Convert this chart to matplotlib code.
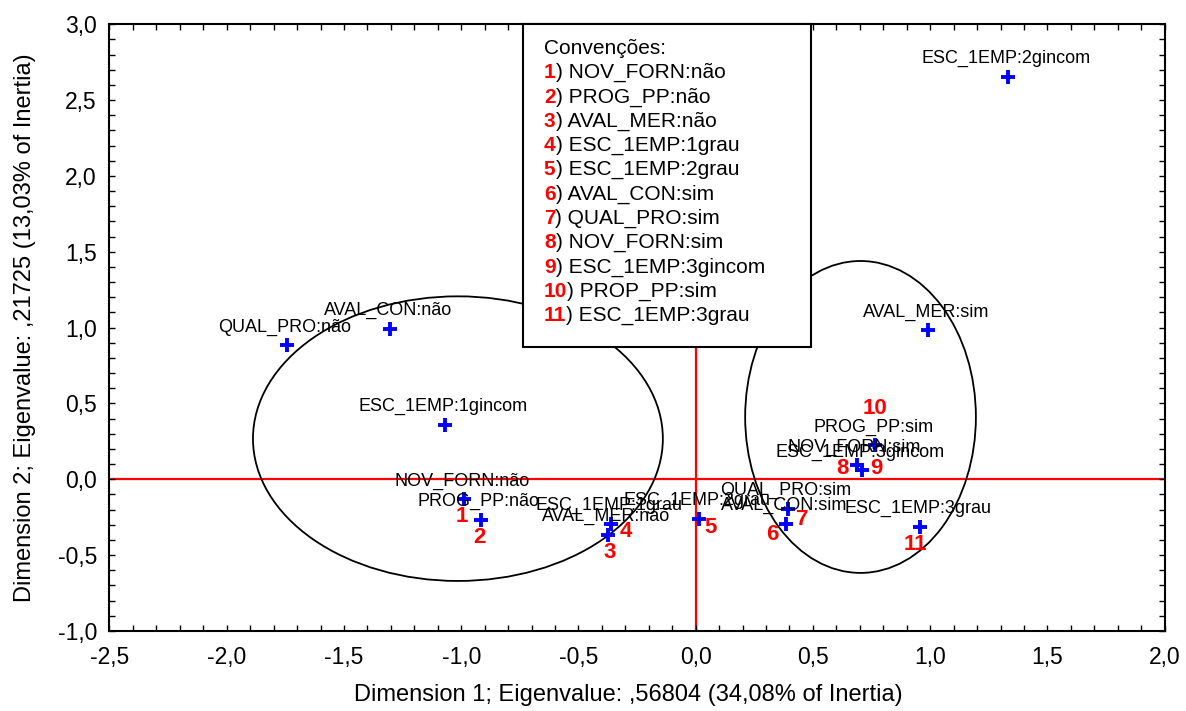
import matplotlib
matplotlib.use("Agg")
import matplotlib.pyplot as plt
from matplotlib.patches import Ellipse, Rectangle
from matplotlib.ticker import MultipleLocator, FuncFormatter

plt.rcParams['font.family'] = ['Liberation Sans', 'DejaVu Sans']

# category coordinates (dimension 1, dimension 2)
labels = ["NOV_FORN:não", "PROG_PP:não", "AVAL_MER:não", "ESC_1EMP:1grau",
          "ESC_1EMP:2grau", "AVAL_CON:sim", "QUAL_PRO:sim", "NOV_FORN:sim",
          "ESC_1EMP:3gincom", "PROG_PP:sim", "ESC_1EMP:3grau",
          "AVAL_MER:sim", "ESC_1EMP:2gincom", "QUAL_PRO:não", "AVAL_CON:não",
          "ESC_1EMP:1gincom"]
dim1 = [-0.987, -0.916, -0.373, -0.360, 0.013, 0.386, 0.393, 0.686,
        0.708, 0.765, 0.956, 0.991, 1.332, -1.743, -1.303, -1.069]
dim2 = [-0.132, -0.270, -0.369, -0.292, -0.259, -0.292, -0.193, 0.092,
        0.059, 0.224, -0.314, 0.982, 2.650, 0.883, 0.989, 0.361]

# numbered points (first 11) and where the red number sits, in pixels
num_offsets = [(-2, -17), (-1, -17), (1, -17), (15, -8), (12, -9), (-14, -11),
               (14, -11), (-14, -3), (15, 2), (0, 37), (-4, -18)]

legend_title = "Convenções:"
legend_items = ["NOV_FORN:não", "PROG_PP:não", "AVAL_MER:não", "ESC_1EMP:1grau",
                "ESC_1EMP:2grau", "AVAL_CON:sim", "QUAL_PRO:sim", "NOV_FORN:sim",
                "ESC_1EMP:3gincom", "PROP_PP:sim", "ESC_1EMP:3grau"]

# groups drawn as ellipses: center x, center y, width, height
groups = [(-1.014, 0.268, 1.748, 1.876),
          (0.703, 0.411, 0.984, 2.056)]

fig = plt.figure(figsize=(11.86, 7.11), dpi=100)
ax = fig.add_axes([0.0923, 0.1125, 0.8897, 0.8535])

ax.set_xlim(-2.5, 2.0)
ax.set_ylim(-1.0, 3.0)

ax.axhline(0, color='red', lw=1.6, zorder=1)
ax.axvline(0, color='red', lw=1.6, zorder=1)

for cx, cy, w, h in groups:
    ax.add_patch(Ellipse((cx, cy), w, h, fill=False, edgecolor='black', lw=1.3, zorder=2))

ax.plot(dim1, dim2, linestyle='none', marker='+', color='#0000FF',
        markersize=10, markeredgewidth=2.8, zorder=3)

for i in range(len(labels)):
    ax.annotate(labels[i], (dim1[i], dim2[i]), xytext=(-2, 14), textcoords='offset pixels',
                ha='center', va='baseline', fontsize=13, color='black', zorder=4)

for i in range(len(num_offsets)):
    ax.annotate(str(i + 1), (dim1[i], dim2[i]), xytext=num_offsets[i], textcoords='offset pixels',
                ha='center', va='center', fontsize=16, fontweight='bold', color='red', zorder=4)

# legend box
ax.add_patch(Rectangle((0.3918, 0.4679), 0.2728, 0.5321, transform=ax.transAxes,
                       facecolor='white', edgecolor='black', lw=1.5, zorder=5, clip_on=False))
x_leg = 0.4117
step = 24.3 / 607.0
y0 = 1 - (48.3 - 24) / 607.0
ax.text(x_leg, y0, legend_title, transform=ax.transAxes, fontsize=15,
        ha='left', va='center', zorder=6)
for i, item in enumerate(legend_items):
    t = ax.text(x_leg, y0 - (i + 1) * step, str(i + 1), transform=ax.transAxes,
                fontsize=15, fontweight='bold', color='red', ha='left', va='center', zorder=6)
    ax.annotate(") " + item, xy=(1, 0), xycoords=t, ha='left', va='bottom',
                fontsize=15, color='black', zorder=6)

# axes styling
fmt = FuncFormatter(lambda v, p: ("%.1f" % v).replace('.', ','))
ax.xaxis.set_major_locator(MultipleLocator(0.5))
ax.yaxis.set_major_locator(MultipleLocator(0.5))
ax.xaxis.set_minor_locator(MultipleLocator(0.1))
ax.yaxis.set_minor_locator(MultipleLocator(0.1))
ax.xaxis.set_major_formatter(fmt)
ax.yaxis.set_major_formatter(fmt)
ax.tick_params(which='both', direction='in', top=True, right=True, length=4, width=1)
ax.tick_params(axis='x', labelsize=16.5, pad=11)
ax.tick_params(axis='y', labelsize=16.5, pad=9)
for s in ax.spines.values():
    s.set_linewidth(1.5)

ax.set_xlabel("Dimension 1; Eigenvalue: ,56804 (34,08% of Inertia)", fontsize=17)
ax.set_ylabel("Dimension 2; Eigenvalue: ,21725 (13,03% of Inertia)", fontsize=17)
ax.xaxis.set_label_coords(0.492, -0.088)
ax.yaxis.set_label_coords(-0.07, 0.5)

fig.savefig("out.png", dpi=100)
